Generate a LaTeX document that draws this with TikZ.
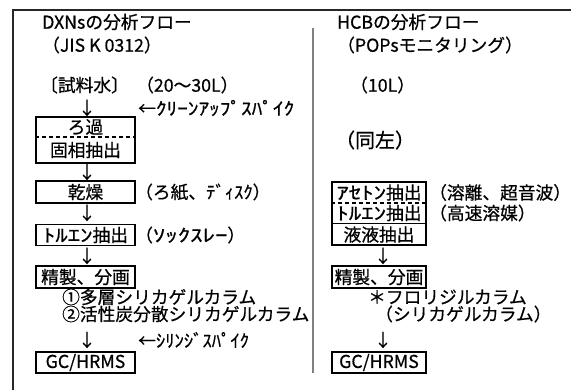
\documentclass[tikz,border=0pt]{standalone}
\usepackage{fontspec}
\usepackage{graphicx}
\setmainfont{Noto Sans CJK JP}[FakeBold=0.6]
\newcommand{\hk}[2][1.4]{\scalebox{#1}[1]{#2}}
\begin{document}
\begin{tikzpicture}[x=1bp,y=-1bp,
  txt/.style={anchor=west,inner sep=0pt,font=\fontsize{17.8}{17.8}\selectfont},
  ctxt/.style={inner sep=0pt,font=\fontsize{17.8}{17.8}\selectfont},
  arr/.style={inner sep=0pt,font=\fontsize{17.8}{17.8}\selectfont},
  boxn/.style={draw=black,line width=1.6bp,minimum width=99bp,inner sep=0pt,font=\fontsize{17.8}{17.8}\selectfont},
  sepline/.style={line width=1.6bp,dash pattern=on 4bp off 3bp},
  frame/.style={line width=1.6bp,black!85},
  divider/.style={line width=1.8bp,black!50}]
\useasboundingbox (0,0) rectangle (571,390);
% frame and divider
\draw[frame] (13,390) -- (13,10) -- (571,10);
\draw[divider] (313,28) -- (313,373);

% ---------- left column ----------
\node[txt] (lh1) at (42,22) {DXNsの分析フロー};
\node[txt] (lh2) at (42,45) {（JIS K 0312）};
\node[txt] (lsample) at (40,85) {〔試料水〕};
\node[txt] (lvol) at (136,85) {（20～30L）};
\node[arr] (la1) at (87,108) {↓};
\node[txt] (lspike1) at (138,108) {←\hk[1.2]{ｸﾘｰﾝｱｯﾌﾟｽﾊﾟｲｸ}};
\node[boxn,minimum height=46bp] (lb1) at (85.5,140) {};
\draw[sepline] (lb1.west |- 0,137) -- (lb1.east |- 0,137);
\node[ctxt] (lb1a) at (85.5,127) {ろ過};
\node[ctxt] (lb1b) at (85.5,150) {固相抽出};
\node[arr] (la2) at (87,172) {↓};
\node[boxn,minimum height=22bp] (lb2) at (85.5,192) {乾燥};
\node[txt] (lb2n) at (135,192) {（ろ紙、\hk[1.05]{ﾃﾞｨｽｸ}）};
\node[arr] (la3) at (87,213) {↓};
\node[boxn,minimum height=21bp] (lb3) at (85.5,235) {\hk{ﾄﾙｴﾝ}抽出};
\node[txt] (lb3n) at (135,235) {（\hk{ｿｯｸｽﾚｰ}）};
\node[arr] (la4) at (87,256) {↓};
\node[boxn,minimum height=22bp] (lb4) at (85.5,277) {精製、分画};
\node[txt] (lc1) at (62,297) {①多層シリカゲルカラム};
\node[txt] (lc2) at (62,314) {②活性炭分散シリカゲルカラム};
\node[arr] (la5) at (87,340) {↓};
\node[txt] (lspike2) at (138,340) {←\hk[1.05]{ｼﾘﾝｼﾞｽﾊﾟｲｸ}};
\node[boxn,minimum height=21bp] (lb5) at (85.5,362.5) {GC/HRMS};

% ---------- right column ----------
\node[txt] (rh1) at (337,22) {HCBの分析フロー};
\node[txt] (rh2) at (337,45) {（POPsモニタリング）};
\node[txt] (rvol) at (350,85) {（10L）};
\node[txt,font=\fontsize{20}{20}\selectfont] (rsame) at (335,140) {（同左）};
\node[boxn,minimum width=94bp,minimum height=63bp] (rb1) at (379,213.5) {};
\draw[sepline] (rb1.west |- 0,203) -- (rb1.east |- 0,203);
\draw[line width=1.6bp] (rb1.west |- 0,223.5) -- (rb1.east |- 0,223.5);
\node[ctxt] (rb1a) at (379,192.5) {\hk{ｱｾﾄﾝ}抽出};
\node[ctxt] (rb1b) at (379,213) {\hk{ﾄﾙｴﾝ}抽出};
\node[ctxt] (rb1c) at (379,234.5) {液液抽出};
\node[txt] (rb1an) at (429,192.5) {（溶離、超音波）};
\node[txt] (rb1bn) at (429,213) {（高速溶媒）};
\node[arr] (ra1) at (383,256) {↓};
\node[boxn,minimum width=94bp,minimum height=22bp] (rb2) at (379,277) {精製、分画};
\node[txt] (rc1) at (368,297) {＊フロリジルカラム};
\node[txt] (rc2) at (375,314) {（シリカゲルカラム）};
\node[arr] (ra2) at (383,340) {↓};
\node[boxn,minimum width=94bp,minimum height=21bp] (rb3) at (379,362.5) {GC/HRMS};
\end{tikzpicture}
\end{document}
